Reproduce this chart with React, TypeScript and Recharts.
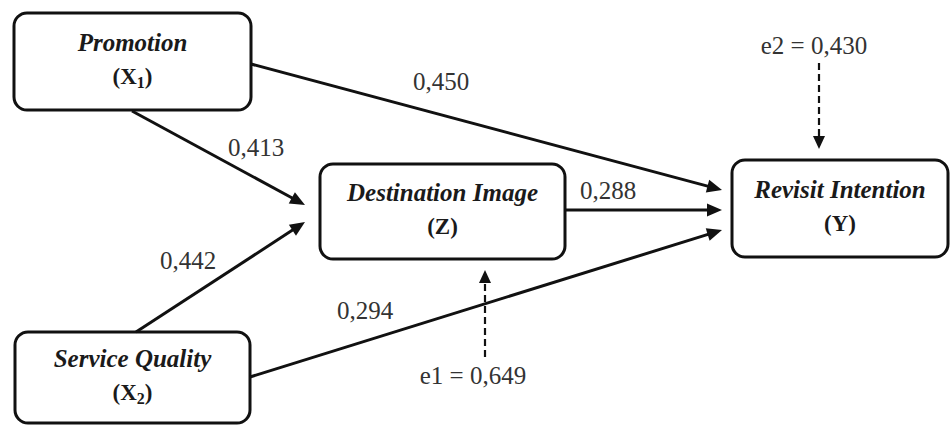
import { ScatterChart, Scatter, XAxis, YAxis, ReferenceArea, ReferenceLine } from "recharts";

// diagram space: x 0..95, y 0..42.6 (y grows downward)
const NODE_NAMES = ["Promotion", "Destination Image", "Revisit Intention", "Service Quality"];
const NODE_CODES = ["X", "Z", "Y", "X"];
const NODE_SUBS = ["1", "", "", "2"];
const NODE_X0 = [1.4, 32.0, 73.2, 1.5];
const NODE_X1 = [25.1, 56.5, 94.8, 25.0];
const NODE_Y0 = [1.3, 16.4, 16.0, 33.2];
const NODE_Y1 = [11.0, 25.9, 25.7, 42.3];

// structural paths
const PATH_FROM_X = [25.1, 13.2, 13.6, 25.0, 56.5];
const PATH_FROM_Y = [6.4, 11.1, 33.2, 37.7, 21.0];
const PATH_TO_X = [72.2, 30.5, 30.5, 72.2, 72.2];
const PATH_TO_Y = [19.0, 20.5, 22.2, 23.0, 21.0];
const PATH_COEF = [0.45, 0.413, 0.442, 0.294, 0.288];
const PATH_LABEL_X = [44.1, 25.6, 18.8, 36.5, 60.8];
const PATH_LABEL_Y = [8.1, 14.7, 26.0, 31.0, 19.0];

// error terms
const ERR_NAMES = ["e1", "e2"];
const ERR_VALUES = [0.649, 0.43];
const ERR_FROM_X = [48.5, 81.9];
const ERR_FROM_Y = [35.7, 6.3];
const ERR_TO_X = [48.5, 81.9];
const ERR_TO_Y = [27.0, 14.9];
const ERR_LABEL_X = [47.3, 81.4];
const ERR_LABEL_Y = [37.5, 4.5];

const SERIF = "'Liberation Serif', 'Times New Roman', serif";
const fmt = (v: number) => v.toFixed(3).replace(".", ",");

const labels = [
  ...PATH_COEF.map((c, i) => ({ x: PATH_LABEL_X[i], y: PATH_LABEL_Y[i], text: fmt(c) })),
  ...ERR_NAMES.map((n, i) => ({ x: ERR_LABEL_X[i], y: ERR_LABEL_Y[i], text: `${n} = ${fmt(ERR_VALUES[i])}` })),
];

function Arrow(props: any, dashed: boolean) {
  const { x1, y1, x2, y2 } = props;
  const dx = x2 - x1;
  const dy = y2 - y1;
  const len = Math.sqrt(dx * dx + dy * dy) || 1;
  const ux = dx / len;
  const uy = dy / len;
  const L = dashed ? 13 : 15;
  const W = dashed ? 6 : 6.5;
  const bx = x2 - ux * L;
  const by = y2 - uy * L;
  const pts = `${x2},${y2} ${bx - uy * W},${by + ux * W} ${bx + uy * W},${by - ux * W}`;
  return (
    <g>
      <line
        x1={x1}
        y1={y1}
        x2={bx + ux * 2}
        y2={by + uy * 2}
        stroke="#111"
        strokeWidth={dashed ? 2.2 : 3}
        strokeDasharray={dashed ? "7 4" : undefined}
      />
      <polygon points={pts} fill="#111" />
    </g>
  );
}

function NodeBox(props: any, i: number) {
  const { x, y, width, height } = props;
  const cx = x + width / 2;
  const cy = y + height / 2;
  return (
    <g>
      <rect x={x} y={y} width={width} height={height} rx={13} ry={13} fill="#fff" stroke="#111" strokeWidth={3} />
      <text
        x={cx}
        y={cy - 19}
        dy="0.35em"
        textAnchor="middle"
        style={{ fontFamily: SERIF, fontSize: 25, fontWeight: "bold", fontStyle: "italic" }}
        fill="#1a1a1a"
      >
        {NODE_NAMES[i]}
      </text>
      <text
        x={cx}
        y={cy + 14}
        dy="0.35em"
        textAnchor="middle"
        style={{ fontFamily: SERIF, fontSize: 23, fontWeight: "bold" }}
        fill="#1a1a1a"
      >
        ({NODE_CODES[i]}
        {NODE_SUBS[i] ? (
          <tspan style={{ fontSize: 16 }} dy={4}>
            {NODE_SUBS[i]}
          </tspan>
        ) : null}
        {NODE_SUBS[i] ? <tspan dy={-4}>)</tspan> : ")"}
      </text>
    </g>
  );
}

function LabelText(props: any) {
  const { cx, cy, payload } = props;
  return (
    <text x={cx} y={cy} dy="0.35em" textAnchor="middle" style={{ fontFamily: SERIF, fontSize: 25 }} fill="#333">
      {payload.text}
    </text>
  );
}

export default function App() {
  return (
    <div style={{ position: "absolute", left: 0, top: 0, width: 950, height: 426, background: "#fff" }}>
      <ScatterChart width={950} height={426} margin={{ top: 0, right: 0, bottom: 0, left: 0 }}>
        <XAxis type="number" dataKey="x" domain={[0, 95]} hide />
        <YAxis type="number" dataKey="y" domain={[0, 42.6]} reversed hide />
        {PATH_COEF.map((_, i) => (
          <ReferenceLine
            key={"p" + i}
            segment={[
              { x: PATH_FROM_X[i], y: PATH_FROM_Y[i] },
              { x: PATH_TO_X[i], y: PATH_TO_Y[i] },
            ]}
            ifOverflow="visible"
            shape={(p: any) => Arrow(p, false)}
          />
        ))}
        {ERR_NAMES.map((_, i) => (
          <ReferenceLine
            key={"e" + i}
            segment={[
              { x: ERR_FROM_X[i], y: ERR_FROM_Y[i] },
              { x: ERR_TO_X[i], y: ERR_TO_Y[i] },
            ]}
            ifOverflow="visible"
            shape={(p: any) => Arrow(p, true)}
          />
        ))}
        {NODE_NAMES.map((_, i) => (
          <ReferenceArea
            key={"n" + i}
            x1={NODE_X0[i]}
            x2={NODE_X1[i]}
            y1={NODE_Y0[i]}
            y2={NODE_Y1[i]}
            ifOverflow="visible"
            shape={(p: any) => NodeBox(p, i)}
          />
        ))}
        <Scatter data={labels} isAnimationActive={false} shape={LabelText} />
      </ScatterChart>
    </div>
  );
}
